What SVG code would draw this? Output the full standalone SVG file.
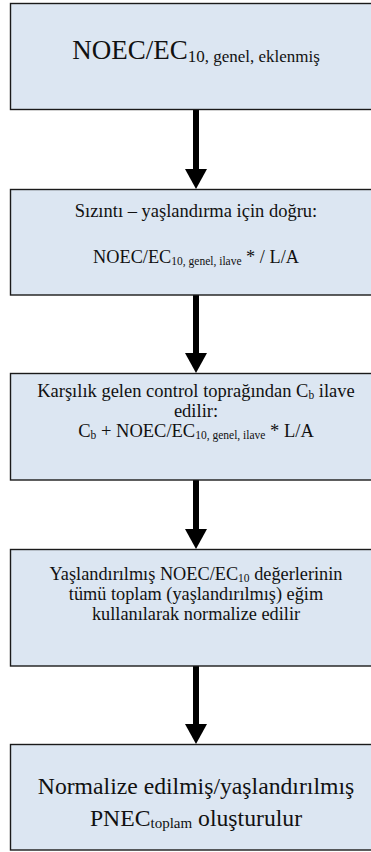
<svg xmlns="http://www.w3.org/2000/svg" width="371" height="852" viewBox="0 0 371 852">
  <defs>
    <style>
      .box { fill: #dce6f2; stroke: #1a1a1a; stroke-width: 1.4; }
      .t { font-family: "Liberation Serif", serif; fill: #111; text-anchor: middle; }
      .link { stroke: #000; stroke-width: 6; fill: none; }
      .head { fill: #000; }
    </style>
  </defs>
  <rect width="371" height="852" fill="#fff"/>

  <!-- vertical flow arrows -->
  <g id="connectors">
    <line class="link" x1="196" y1="110" x2="196" y2="170"/>
    <path class="head" d="M185,169 L207,169 L196,189 Z"/>
    <line class="link" x1="196" y1="295" x2="196" y2="354"/>
    <path class="head" d="M185,353 L207,353 L196,373 Z"/>
    <line class="link" x1="196" y1="480" x2="196" y2="530"/>
    <path class="head" d="M185,529 L207,529 L196,549 Z"/>
    <line class="link" x1="196" y1="666" x2="196" y2="725"/>
    <path class="head" d="M185,724 L207,724 L196,744 Z"/>
  </g>

  <g id="node-total">
    <rect class="box" x="10.5" y="3.5" width="372" height="106"/>
    <text class="t" font-family="Liberation Serif, serif" x="196" y="59" font-size="27">NOEC/EC<tspan font-size="17" dy="3">10, genel, eklenmiş</tspan></text>
  </g>

  <g id="node-leaching">
    <rect class="box" x="10.5" y="189.5" width="372" height="105.5"/>
    <text class="t" font-family="Liberation Serif, serif" x="196" y="217" font-size="18.5">Sızıntı – yaşlandırma için doğru:</text>
    <text class="t" font-family="Liberation Serif, serif" x="196" y="263" font-size="18.3">NOEC/EC<tspan font-size="11.5" dy="2">10, genel, ilave</tspan><tspan dy="-2"> * / L/A</tspan></text>
  </g>

  <g id="node-background">
    <rect class="box" x="10.5" y="373.5" width="372" height="106.5"/>
    <text class="t" font-family="Liberation Serif, serif" x="196" y="397" font-size="18.5">Karşılık gelen control toprağından C<tspan font-size="11.5" dy="2">b</tspan><tspan dy="-2"> ilave</tspan></text>
    <text class="t" font-family="Liberation Serif, serif" x="196" y="417" font-size="18.5">edilir:</text>
    <text class="t" font-family="Liberation Serif, serif" x="196" y="437" font-size="18.5">C<tspan font-size="11.5" dy="2">b</tspan><tspan dy="-2"> + NOEC/EC</tspan><tspan font-size="11.5" dy="2">10, genel, ilave</tspan><tspan dy="-2"> * L/A</tspan></text>
  </g>

  <g id="node-normalize">
    <rect class="box" x="10.5" y="549.5" width="372" height="116.5"/>
    <text class="t" font-family="Liberation Serif, serif" x="196" y="580" font-size="18.3">Yaşlandırılmış NOEC/EC<tspan font-size="11.5" dy="2">10</tspan><tspan dy="-2"> değerlerinin</tspan></text>
    <text class="t" font-family="Liberation Serif, serif" x="196" y="600" font-size="18.3">tümü toplam (yaşlandırılmış) eğim</text>
    <text class="t" font-family="Liberation Serif, serif" x="196" y="620" font-size="18.3">kullanılarak normalize edilir</text>
  </g>

  <g id="node-pnec">
    <rect class="box" x="10.5" y="744.5" width="372" height="105.5"/>
    <text class="t" font-family="Liberation Serif, serif" x="196" y="794" font-size="23.7">Normalize edilmiş/yaşlandırılmış</text>
    <text class="t" font-family="Liberation Serif, serif" x="196" y="826" font-size="23.7">PNEC<tspan font-size="15" dy="2">toplam</tspan><tspan dy="-2"> oluşturulur</tspan></text>
  </g>
</svg>
